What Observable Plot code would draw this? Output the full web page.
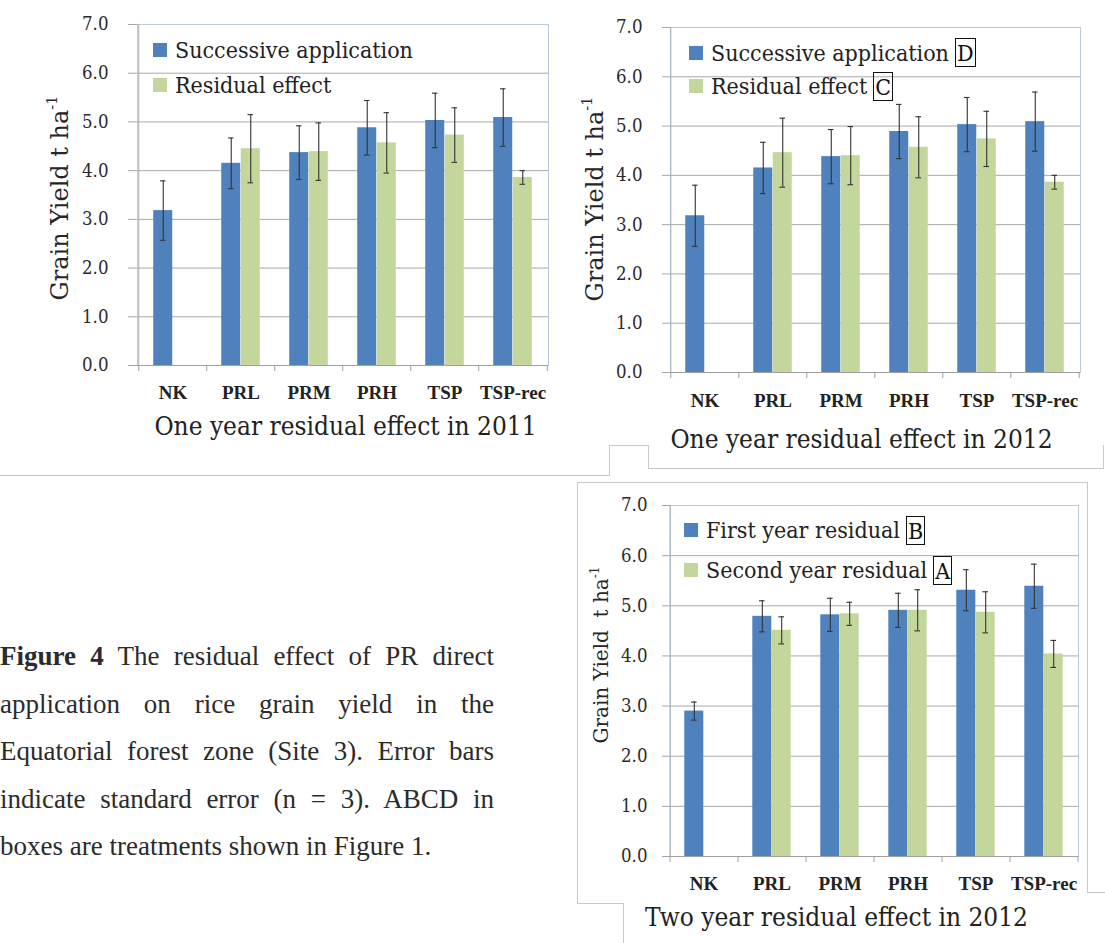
<!DOCTYPE html>
<html><head><meta charset="utf-8">
<script src="https://cdn.jsdelivr.net/npm/d3@7"></script>
<script src="https://cdn.jsdelivr.net/npm/@observablehq/plot@0.6"></script>
<style>
body{margin:0;background:#fff;}
#fig{position:relative;width:1105px;height:943px;overflow:hidden;background:#fff;}
.abs{position:absolute;}
.ln{position:absolute;background:#c9c9c9;}
.serif{font-family:'DejaVu Serif Condensed','DejaVu Serif',serif;font-stretch:condensed;color:#222;white-space:nowrap;}
.ytitle{font-family:'DejaVu Serif',serif;color:#262626;white-space:nowrap;transform:translate(-50%,-50%) rotate(-90deg);}
.ytitle sup{font-size:0.6em;line-height:0;vertical-align:0.75em;}
.legrow{display:flex;align-items:center;height:30px;}
.sq{width:14px;height:14px;flex:none;}
.box{display:inline-block;border:1.5px solid #111;height:27px;line-height:28px;padding:0 1px;margin-left:6px;color:#111;}
.cap{font-family:'Liberation Serif','Times New Roman',serif;font-size:27px;line-height:30px;color:#2b2b2b;width:494px;left:0px;text-align:justify;text-align-last:justify;white-space:nowrap;}
.cap.last{text-align-last:left;}
</style></head><body><div id="fig"></div>
<script>
// ---------------- data ----------------
const categories = ["NK", "PRL", "PRM", "PRH", "TSP", "TSP-rec"];
const yTicks = [0, 1, 2, 3, 4, 5, 6, 7];

// One year residual effect in 2011
const y2011Successive    = [3.18, 4.15, 4.37, 4.88, 5.03, 5.09];
const y2011SuccessiveSE  = [0.61, 0.52, 0.55, 0.56, 0.56, 0.59];
const y2011Residual      = [null, 4.45, 4.39, 4.57, 4.73, 3.86];
const y2011ResidualSE    = [null, 0.70, 0.59, 0.62, 0.56, 0.14];

// One year residual effect in 2012
const y2012Successive    = [3.18, 4.15, 4.38, 4.89, 5.03, 5.09];
const y2012SuccessiveSE  = [0.62, 0.52, 0.55, 0.55, 0.55, 0.60];
const y2012Residual      = [null, 4.46, 4.40, 4.57, 4.74, 3.86];
const y2012ResidualSE    = [null, 0.70, 0.59, 0.62, 0.56, 0.14];

// Two year residual effect in 2012
const twoYearFirst       = [2.90, 4.79, 4.82, 4.91, 5.31, 5.39];
const twoYearFirstSE     = [0.18, 0.31, 0.33, 0.34, 0.41, 0.44];
const twoYearSecond      = [null, 4.51, 4.84, 4.91, 4.87, 4.04];
const twoYearSecondSE    = [null, 0.27, 0.23, 0.41, 0.41, 0.27];

const blue = "#4f81bd", green = "#c3d69b";

function rows(values, se) {
  return categories.map((c, i) => ({cat: c, value: values[i], se: se[i]})).filter(d => d.value != null);
}

const fig = document.getElementById("fig");
function add(html, cls, style) {
  const d = document.createElement("div");
  d.className = "abs " + (cls || "");
  Object.assign(d.style, style);
  d.innerHTML = html;
  fig.appendChild(d);
  return d;
}

// ---------------- frame lines of the figure layout ----------------
function hl(x1, x2, y) { add("", "ln", {left: x1 + "px", top: y + "px", width: (x2 - x1) + "px", height: "1px"}); }
function vl(x, y1, y2) { add("", "ln", {left: x + "px", top: y1 + "px", width: "1px", height: (y2 - y1) + "px"}); }
hl(0, 609, 475); vl(609, 445, 476); hl(609, 648, 445); vl(648, 445, 468); hl(648, 1104, 468); vl(1103, 445, 469);
hl(577, 1087, 482); vl(577, 482, 903); hl(577, 623, 903); vl(623, 903, 943); vl(1087, 482, 892); hl(1087, 1105, 892);

// ---------------- panels ----------------
function panel(cfg) {
  const {left, top, width, height, ml, mr, mt, mb, ytSize, ytPad, xtPad, a, b} = cfg;
  const step = (width - ml - mr) / categories.length;
  const pin = 0.715;
  const bw = step * (1 - pin);
  const half = bw / 2;
  const capInset = (bw - 6) / 2;
  const errMarks = (data, dx) => [
    Plot.ruleX(data, {x: "cat", y1: d => d.value - d.se, y2: d => d.value + d.se, dx, stroke: "#333", strokeWidth: 1.1}),
    Plot.tickY(data, {x: "cat", y: d => d.value + d.se, dx, insetLeft: capInset, insetRight: capInset, stroke: "#333", strokeWidth: 1.1}),
    Plot.tickY(data, {x: "cat", y: d => d.value - d.se, dx, insetLeft: capInset, insetRight: capInset, stroke: "#333", strokeWidth: 1.1})
  ];
  const svg = Plot.plot({
    width, height, marginLeft: ml, marginRight: mr, marginTop: mt, marginBottom: mb,
    style: {background: "none", overflow: "visible"},
    x: {domain: categories, paddingInner: pin, paddingOuter: pin / 2, axis: null, label: null},
    y: {domain: [0, 7], axis: null, label: null},
    marks: [
      Plot.gridY(yTicks.slice(1, 7), {stroke: "#a9a9a9", strokeOpacity: 1}),
      Plot.frame({stroke: "#b9cadf"}),
      Plot.ruleX([categories[0]], {dx: -step / 2, y1: 0, y2: 7, stroke: "#a7b0bd"}),
      Plot.ruleY([0], {stroke: "#a0a0a0"}),
      Plot.axisY({ticks: yTicks, tickSize: ytSize, tickPadding: 0, tickFormat: () => "", stroke: "#a6a6a6", label: null}),
      Plot.axisY({ticks: yTicks, tickSize: 0, tickPadding: ytSize + ytPad, tickFormat: d3.format(".1f"),
        fontSize: 18.5, fontFamily: "'DejaVu Serif Condensed','DejaVu Serif',serif", fill: "#2a2a2a", label: null}),
      Plot.axisX({tickSize: 6, tickFormat: () => "", dx: -step / 2, stroke: "#a0a0a0", label: null}),
      Plot.axisX({ticks: [categories[categories.length - 1]], tickSize: 6, tickFormat: () => "", dx: step / 2, stroke: "#a0a0a0", label: null}),
      Plot.axisX({tickSize: 0, tickPadding: xtPad, fontSize: 19, fontWeight: "bold",
        fontFamily: "'Liberation Serif','Times New Roman',serif", fill: "#222", label: null}),
      Plot.barY(a, {x: "cat", y: "value", dx: -half, fill: blue}),
      Plot.barY(b, {x: "cat", y: "value", dx: half, fill: green}),
      ...errMarks(a, -half),
      ...errMarks(b, half)
    ]
  });
  svg.style.position = "absolute";
  svg.style.left = left + "px";
  svg.style.top = top + "px";
  fig.appendChild(svg);
}

panel({left: 0, top: 0, width: 560, height: 410, ml: 137, mr: 12, mt: 24, mb: 45, ytSize: 9, ytPad: 20, xtPad: 19.5,
  a: rows(y2011Successive, y2011SuccessiveSE), b: rows(y2011Residual, y2011ResidualSE)});
panel({left: 560, top: 0, width: 540, height: 420, ml: 110, mr: 20, mt: 27, mb: 48, ytSize: 8, ytPad: 20, xtPad: 20.5,
  a: rows(y2012Successive, y2012SuccessiveSE), b: rows(y2012Residual, y2012ResidualSE)});
panel({left: 570, top: 480, width: 520, height: 420, ml: 100, mr: 12, mt: 25, mb: 44, ytSize: 8, ytPad: 15, xtPad: 19.5,
  a: rows(twoYearFirst, twoYearFirstSE), b: rows(twoYearSecond, twoYearSecondSE)});

// ---------------- legends ----------------
function legend(x, cy, color, label, boxLetter, gap) {
  const box = boxLetter ? `<span class="box">${boxLetter}</span>` : "";
  add(`<div class="sq" style="background:${color}"></div><span style="margin-left:${gap}px">${label}</span>${box}`,
    "serif legrow", {left: x + "px", top: (cy - 15) + "px", fontSize: "23px"});
}
legend(153, 50, blue, "Successive application", null, 8);
legend(153, 85, green, "Residual effect", null, 8);
legend(689, 52.5, blue, "Successive application", "D", 8);
legend(689, 86, green, "Residual effect", "C", 8);
legend(684, 530, blue, "First year residual", "B", 8);
legend(684, 570, green, "Second year residual", "A", 8);

// ---------------- axis titles ----------------
function ytitle(cx, cy, size, text) {
  add(text, "ytitle", {left: cx + "px", top: cy + "px", fontSize: size + "px"});
}
ytitle(60, 198, 24, "Grain Yield t ha<sup>-1</sup>");
ytitle(595, 199, 24, "Grain Yield t ha<sup>-1</sup>");
ytitle(601, 655, 20, "Grain Yield&nbsp;&nbsp;t ha<sup>-1</sup>");

function title(cx, cy, text) {
  add(text, "serif", {left: (cx - 300) + "px", top: (cy - 16) + "px", width: "600px", textAlign: "center",
    fontSize: "26px", lineHeight: "31px"});
}
title(345.5, 427, "One year residual effect in 2011");
title(861.5, 440, "One year residual effect in 2012");
title(836.5, 918, "Two year residual effect in 2012");

// ---------------- caption ----------------
const captionLines = [
  "<b>Figure 4</b> The residual effect of PR direct",
  "application on rice grain yield in the",
  "Equatorial forest zone (Site 3). Error bars",
  "indicate standard error (n = 3). ABCD in",
  "boxes are treatments shown in Figure 1."
];
captionLines.forEach((t, i) => {
  add(t, "cap" + (i === captionLines.length - 1 ? " last" : ""), {top: (641 + i * 47.5) + "px"});
});
</script>
</body></html>
